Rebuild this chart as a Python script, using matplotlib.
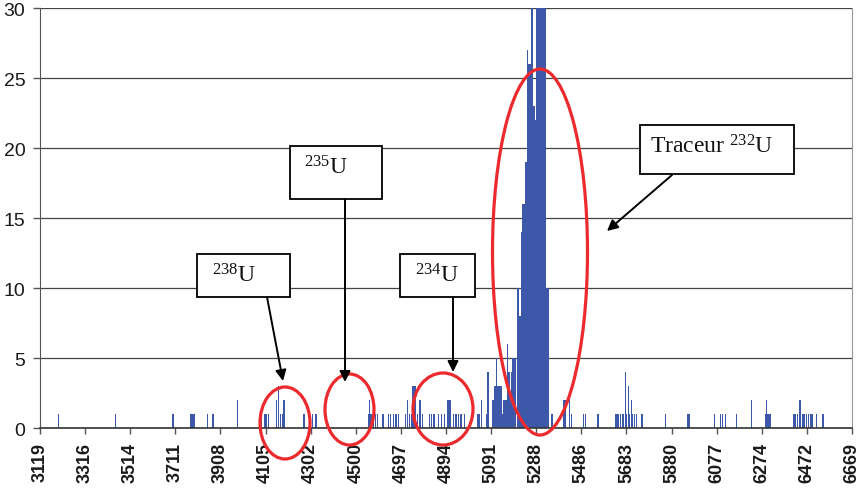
import matplotlib
matplotlib.use("Agg")
import matplotlib.pyplot as plt
from matplotlib.patches import Ellipse, Rectangle

# ---------------- data ----------------
energies = [
    3201, 3448, 3700, 3778, 3783, 3792, 3852, 3876, 3983, 4080, 4086, 4102, 4109, 4117,
    4153, 4161, 4171, 4178, 4185, 4270, 4276, 4311, 4326,
    4554, 4560, 4566, 4577, 4587, 4595, 4619, 4643, 4652, 4665, 4676, 4685, 4717, 4726,
    4735, 4743, 4750, 4756, 4762, 4769, 4781, 4790, 4822, 4831, 4842, 4861, 4873, 4888,
    4903, 4911, 4928, 4938, 4950, 4960, 4976,
    5033, 5039, 5049, 5071, 5078, 5100, 5108, 5115, 5122, 5128, 5134, 5142, 5148, 5156,
    5163, 5169, 5175, 5181, 5187, 5193, 5199,
    5206, 5212, 5218, 5224, 5230, 5236, 5243, 5249, 5255, 5261, 5266, 5270, 5275, 5280,
    5286, 5292, 5298, 5304, 5310, 5316, 5322, 5328, 5336, 5342,
    5358, 5408, 5415, 5435, 5443, 5496, 5504, 5559, 5634, 5642, 5649, 5657, 5668, 5679,
    5684, 5692, 5697, 5704, 5710, 5719, 5728, 5751, 5853, 5949, 5957, 6069, 6094, 6102,
    6115, 6164, 6229, 6290, 6295, 6302, 6311, 6416, 6423, 6431, 6439, 6445, 6454, 6462,
    6471, 6480, 6489, 6497, 6513, 6539, 6545,
]
counts = [
    1, 1, 1, 1, 1, 1, 1, 1, 2, 1, 1, 1, 1, 1,
    2, 3, 1, 1, 2, 1, 1, 1, 1,
    1, 2, 1, 1, 1, 1, 1, 1, 1, 1, 1, 1, 1, 2,
    1, 1, 3, 3, 3, 1, 2, 1, 1, 1, 1, 1, 1, 1,
    2, 2, 1, 1, 1, 1, 1,
    1, 1, 2, 1, 4, 2, 3, 5, 3, 3, 3, 1, 2, 2,
    6, 4, 2, 4, 5, 5, 5,
    10, 10, 8, 14, 16, 16, 19, 27, 26, 26, 22, 31, 23, 23,
    22, 38, 52, 61, 57, 47, 41, 34, 10, 10,
    1, 2, 2, 2, 1, 1, 1, 1, 1, 1, 1, 1, 1, 4,
    1, 3, 1, 2, 1, 1, 1, 1, 1, 1, 1, 1, 1, 1,
    1, 1, 2, 1, 2, 1, 1, 1, 1, 1, 2, 2, 1, 1,
    1, 1, 1, 1, 1, 1, 1,
]
x_ticks = [3119, 3316, 3514, 3711, 3908, 4105, 4302, 4500, 4697, 4894,
           5091, 5288, 5486, 5683, 5880, 6077, 6274, 6472, 6669]
y_ticks = [0, 5, 10, 15, 20, 25, 30]
box_labels = [r"$\mathregular{^{238}}$U", r"$\mathregular{^{235}}$U",
              r"$\mathregular{^{234}}$U", r"Traceur $\mathregular{^{232}}$U"]

# ---------------- figure ----------------
W, H = 864, 489
fig = plt.figure(figsize=(W / 100, H / 100), dpi=100)
ax = fig.add_axes([40 / W, 1 - 429.3 / H, 812 / W, 420 / H])

ax.bar(energies, counts, width=6, color="#3d58a8", linewidth=0, zorder=2)

ax.set_xlim(x_ticks[0], x_ticks[-1])
ax.set_ylim(0, 30)
ax.set_xticks(x_ticks)
ax.set_xticklabels([str(t) for t in x_ticks], rotation=90, fontsize=13,
                   fontweight="bold", color="#1a1a1a", family="Liberation Sans")
ax.set_yticks(y_ticks)
ax.set_yticklabels([str(t) for t in y_ticks], fontsize=14, color="#1a1a1a",
                   family="Liberation Sans")
ax.tick_params(axis="x", length=4.5, width=1, color="#555555", pad=5.5)
ax.tick_params(axis="y", length=5, width=1, color="#555555", pad=5.5)
ax.yaxis.grid(True, color="#444444", linewidth=0.9, zorder=0)
ax.set_axisbelow(True)
ax.spines["top"].set_visible(False)
ax.spines["right"].set_color("#999999")
ax.spines["left"].set_color("#555555")
ax.spines["bottom"].set_color("#333333")
ax.spines["bottom"].set_linewidth(1.2)


def ex(px):
    return x_ticks[0] + (px - 40) * (x_ticks[-1] - x_ticks[0]) / 812.0


def ey(py):
    return (429.3 - py) / 14.0


# red ellipses (pixel centre, pixel size)
ells = [(285, 424, 50, 72), (349.5, 410.5, 49, 71), (443, 410, 60, 72),
        (540, 253, 95, 366)]
for cx, cy, w, h in ells:
    e = Ellipse((ex(cx), ey(cy)), w * 3550 / 812.0, h / 14.0, fill=False,
                edgecolor="#ec2a2e", linewidth=2.3, zorder=4, clip_on=False)
    ax.add_patch(e)


def fx(px):
    return px / W


def fy(py):
    return 1 - py / H


# boxes: (x0, y0, x1, y1, text cx, text cy, arrow start, arrow tip)
boxes = [
    (197, 255, 290, 298, 234, 276, (267, 298), (283, 382)),
    (290, 147, 382, 200, 326, 168, (345, 200), (345, 383)),
    (400, 255, 475, 298, 437, 276, (453, 298), (453, 373)),
    (640, 126, 794, 175, 712, 147, (672, 176), (607, 232)),
]
for (x0, y0, x1, y1, tx, ty, a0, a1), lab in zip(boxes, box_labels):
    fig.add_artist(Rectangle((fx(x0), fy(y1)), (x1 - x0) / W, (y1 - y0) / H,
                             transform=fig.transFigure, facecolor="white",
                             edgecolor="black", linewidth=1.3, zorder=6))
    fig.text(fx(tx), fy(ty), lab, ha="center", va="center", fontsize=17,
             family="Liberation Serif", color="#111111", zorder=7)
    ax.annotate("", xy=(fx(a1[0]), fy(a1[1])), xytext=(fx(a0[0]), fy(a0[1])),
                xycoords="figure fraction", textcoords="figure fraction",
                arrowprops=dict(arrowstyle="-|>", mutation_scale=16, lw=1.4,
                                color="black", shrinkA=0, shrinkB=0),
                zorder=5)

fig.savefig("out.png", dpi=100)
